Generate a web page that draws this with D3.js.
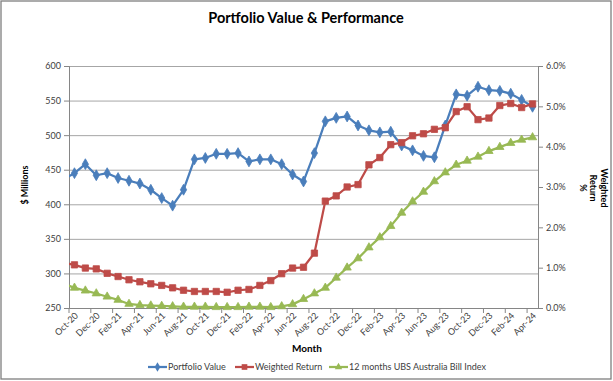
<!DOCTYPE html>
<html><head><meta charset="utf-8">
<script src="https://cdn.jsdelivr.net/npm/d3@7"></script>
<style>
html,body{margin:0;padding:0;background:#fff;}
text{font-family:Lato,"Open Sans",sans-serif;}
</style></head>
<body><svg id="c" width="613" height="381"></svg>
<script>
const months = ["Oct-20","Nov-20","Dec-20","Jan-21","Feb-21","Mar-21","Apr-21","May-21","Jun-21","Jul-21","Aug-21","Sep-21",
"Oct-21","Nov-21","Dec-21","Jan-22","Feb-22","Mar-22","Apr-22","May-22","Jun-22","Jul-22","Aug-22","Sep-22",
"Oct-22","Nov-22","Dec-22","Jan-23","Feb-23","Mar-23","Apr-23","May-23","Jun-23","Jul-23","Aug-23","Sep-23",
"Oct-23","Nov-23","Dec-23","Jan-24","Feb-24","Mar-24","Apr-24"];
const portfolioValue = [445,458,442,445,438,434,430,421,409,398,421,465,467,473,473,474,462,465,465,458,443,433,474,520,525,527,514,507,504,505,485,478,470,468,514,559,557,570,565,564,560,551,541];
const weightedReturn = [1.07,0.99,0.97,0.86,0.78,0.70,0.65,0.60,0.56,0.50,0.44,0.41,0.41,0.41,0.39,0.44,0.46,0.56,0.68,0.85,0.99,1.01,1.36,2.65,2.78,3.00,3.06,3.55,3.73,4.05,4.10,4.27,4.32,4.43,4.47,4.87,4.99,4.67,4.71,5.02,5.07,4.97,5.06];
const billIndex = [0.50,0.43,0.36,0.28,0.20,0.10,0.07,0.06,0.05,0.04,0.03,0.03,0.03,0.02,0.02,0.02,0.03,0.03,0.02,0.04,0.09,0.22,0.36,0.50,0.75,1.00,1.23,1.50,1.75,2.03,2.36,2.64,2.88,3.14,3.36,3.55,3.65,3.75,3.89,3.99,4.09,4.17,4.23];
// preceding month (Sep-20), outside the axis range; its line segment is clipped at the plot edge
const leadMonth = "Sep-20";
const leadValues = [436, 1.12, 0.60];
const leftTicks = [250,300,350,400,450,500,550,600];
const rightTicks = [0,1,2,3,4,5,6];

const svg = d3.select("#c");
const L=69, R=538, T=66, B=308;
const n = months.length;
const x = d3.scaleLinear().domain([-0.5, n-0.5]).range([L,R]);
const yL = d3.scaleLinear().domain([250,600]).range([B,T]);
const yR = d3.scaleLinear().domain([0,6]).range([B,T]);

// chart border
svg.append("rect").attr("x",1).attr("y",1).attr("width",610).attr("height",378)
  .attr("fill","#fff").attr("stroke","#7f7f7f").attr("stroke-width",1.3);

// title
svg.append("text").attr("x",306).attr("y",23).attr("text-anchor","middle")
  .attr("font-size",14.5).attr("font-weight","bold").attr("fill","#000").text("Portfolio Value & Performance");

// gridlines
svg.append("g").selectAll("line").data(leftTicks).join("line")
  .attr("x1",L).attr("x2",R).attr("y1",d=>yL(d)+0.5).attr("y2",d=>yL(d)+0.5)
  .attr("stroke","#a6a6a6").attr("stroke-width",1);

// left axis
const gl = svg.append("g").attr("transform",`translate(${L},0)`)
  .call(d3.axisLeft(yL).tickValues(leftTicks).tickSize(5).tickPadding(3).tickFormat(d3.format("d")));
gl.select(".domain").attr("stroke","#868686");
gl.selectAll(".tick line").attr("stroke","#868686");
gl.selectAll("text").attr("font-size",9).attr("fill","#404040").attr("font-family","Lato,sans-serif");

// right axis
const gr = svg.append("g").attr("transform",`translate(${R},0)`)
  .call(d3.axisRight(yR).tickValues(rightTicks).tickSize(5).tickPadding(3).tickFormat(d=>d3.format(".1f")(d)+"%"));
gr.select(".domain").attr("stroke","#868686");
gr.selectAll(".tick line").attr("stroke","#868686");
gr.selectAll("text").attr("font-size",9).attr("fill","#404040").attr("font-family","Lato,sans-serif");

// bottom axis
const tickBounds = d3.range(0, n+1, 2).map(i=>i-0.5);
const gb = svg.append("g").attr("transform",`translate(0,${B})`);
gb.append("line").attr("x1",L).attr("x2",R).attr("y1",0.5).attr("y2",0.5).attr("stroke","#868686");
gb.selectAll("line.t").data(tickBounds).join("line").attr("class","t")
  .attr("x1",d=>x(d)).attr("x2",d=>x(d)).attr("y1",0).attr("y2",5).attr("stroke","#868686");
gb.selectAll("text").data(months.map((m,i)=>({m,i})).filter(d=>d.i%2===0)).join("text")
  .attr("transform",d=>`translate(${x(d.i)+2},${6}) rotate(-45)`)
  .attr("text-anchor","end").attr("dy","0.35em")
  .attr("font-size",9).attr("fill","#404040").text(d=>d.m);

// axis titles
svg.append("text").attr("transform","translate(28,185) rotate(-90)").attr("text-anchor","middle")
  .attr("font-size",9).attr("font-weight","bold").attr("fill","#000").text("$ Millions");
const rt = svg.append("text").attr("transform","translate(590,188) rotate(90)").attr("text-anchor","middle")
  .attr("font-size",9).attr("font-weight","bold").attr("fill","#000");
["Weighted","Return","%"].forEach((s,k)=>rt.append("tspan").attr("x",0).attr("y",(k-1)*10.5).text(s));
svg.append("text").attr("x",307).attr("y",352).attr("text-anchor","middle")
  .attr("font-size",10).attr("font-weight","bold").attr("fill","#000").text("Month");

// clip
svg.append("defs").append("clipPath").attr("id","pc").append("rect")
  .attr("x",L).attr("y",T-10).attr("width",R-L).attr("height",B-T+20);

const series = [
  {name:"Portfolio Value", vals:portfolioValue, lead:leadValues[0], y:yL, color:"#4A7EBB", sym:d3.symbolDiamond, size:34},
  {name:"Weighted Return", vals:weightedReturn, lead:leadValues[1], y:yR, color:"#BE4B48", sym:d3.symbolSquare, size:40},
  {name:"12 months UBS Australia Bill Index", vals:billIndex, lead:leadValues[2], y:yR, color:"#98B954", sym:d3.symbolTriangle, size:30}
];
const plot = svg.append("g");
series.forEach(s=>{
  const pts = [{i:-1,v:s.lead}].concat(s.vals.map((v,i)=>({i,v})));
  const line = d3.line().x(d=>x(d.i)).y(d=>s.y(d.v));
  plot.append("path").datum(pts).attr("d",line).attr("fill","none")
    .attr("stroke",s.color).attr("stroke-width",2.25).attr("stroke-linejoin","round")
    .attr("clip-path","url(#pc)");
  plot.append("g").selectAll("path").data(s.vals).join("path")
    .attr("transform",(d,i)=>`translate(${x(i)},${s.y(d)})`)
    .attr("d",d3.symbol().type(s.sym).size(s.size)).attr("fill",s.color).attr("stroke",s.color).attr("stroke-width",0.8);
});

// legend
const legend = svg.append("g");
const lx = [148, 235, 329];
series.forEach((s,k)=>{
  const g = legend.append("g").attr("transform",`translate(${lx[k]},367)`);
  g.append("line").attr("x1",0).attr("x2",19).attr("y1",0).attr("y2",0).attr("stroke",s.color).attr("stroke-width",2.25);
  g.append("path").attr("transform","translate(9.5,0)").attr("d",d3.symbol().type(s.sym).size(s.size*0.8))
    .attr("fill",s.color);
  g.append("text").attr("x",20).attr("y",0).attr("dy","0.35em").attr("font-size",9).attr("fill","#404040").text(s.name);
});
</script></body></html>
